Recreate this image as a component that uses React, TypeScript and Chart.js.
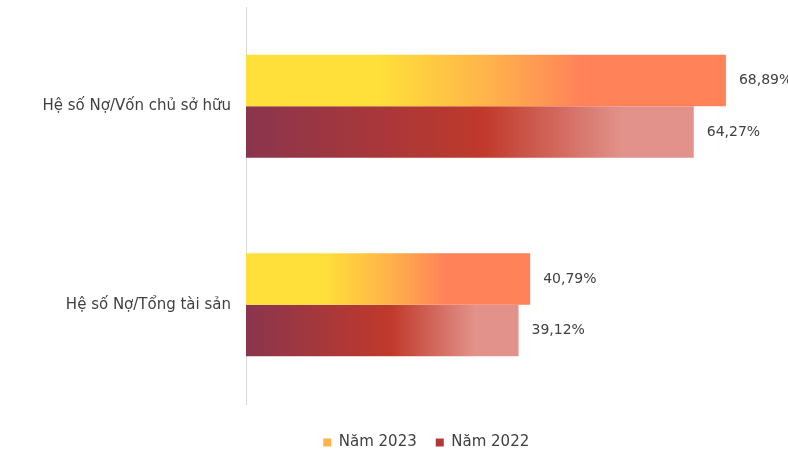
import React, { useEffect, useRef } from "react";
import { Chart, registerables } from "chart.js";

Chart.register(...registerables);

const categories = ["Hệ số Nợ/Vốn chủ sở hữu", "Hệ số Nợ/Tổng tài sản"];
const seriesNames = ["Năm 2023", "Năm 2022"];
const values2023 = [68.89, 40.79];
const values2022 = [64.27, 39.12];

const stops2023: [number, string][] = [
  [0, "#FFDF3A"],
  [0.28, "#FFDF3A"],
  [0.5, "#FFB44A"],
  [0.7, "#FF8259"],
  [1, "#FF8259"],
];
const stops2022: [number, string][] = [
  [0, "#8A354D"],
  [0.53, "#C0392B"],
  [0.84, "#E2928A"],
  [1, "#E2928A"],
];

const FONT = "'DejaVu Sans', sans-serif";
const TEXT = "#404040";

function barGradient(stops: [number, string][]) {
  return (ctx: any) => {
    const chart = ctx.chart;
    const x = chart.scales?.x;
    if (!chart.chartArea || !x || ctx.dataIndex === undefined) return stops[stops.length - 1][1];
    const v = ctx.dataset.data[ctx.dataIndex];
    const x0 = x.getPixelForValue(0);
    const x1 = x.getPixelForValue(v);
    const g = chart.ctx.createLinearGradient(x0, 0, x1, 0);
    stops.forEach(([o, c]) => g.addColorStop(o, c));
    return g;
  };
}

const labelPlugin = {
  id: "valueLabels",
  afterDatasetsDraw(chart: any) {
    const c = chart.ctx;
    c.save();
    c.font = `14px ${FONT}`;
    c.fillStyle = TEXT;
    c.textAlign = "left";
    c.textBaseline = "middle";
    chart.data.datasets.forEach((ds: any, di: number) => {
      const meta = chart.getDatasetMeta(di);
      meta.data.forEach((bar: any, i: number) => {
        const v = ds.data[i] as number;
        const t = v.toFixed(2).replace(".", ",") + "%";
        c.fillText(t, bar.x + 13, bar.y);
      });
    });
    c.restore();
  },
};

const legendShift = {
  id: "legendShift",
  afterLayout(chart: any) {
    const lg = chart.legend;
    if (lg) {
      lg.left += 42;
      lg.right += 42;
      lg.top += 5;
      lg.bottom += 5;
    }
  },
};

export default function App() {
  const ref = useRef<HTMLCanvasElement>(null);
  useEffect(() => {
    if (!ref.current) return;
    const chart = new Chart(ref.current, {
      type: "bar",
      data: {
        labels: categories,
        datasets: [
          {
            label: seriesNames[0],
            data: values2023,
            backgroundColor: barGradient(stops2023),
            borderWidth: 0,
            barPercentage: 1,
            categoryPercentage: 0.52,
          },
          {
            label: seriesNames[1],
            data: values2022,
            backgroundColor: barGradient(stops2022),
            borderWidth: 0,
            barPercentage: 1,
            categoryPercentage: 0.52,
          },
        ],
      },
      options: {
        indexAxis: "y",
        animation: false,
        responsive: false,
        maintainAspectRatio: false,
        layout: { padding: { top: 7, right: 19.5, bottom: 0, left: 0 } },
        scales: {
          x: {
            min: 0,
            max: 75,
            display: true,
            grid: { display: false, drawTicks: false },
            border: { display: false },
            ticks: { display: false },
            afterFit: (s: any) => {
              s.height = 7;
            },
          },
          y: {
            grid: { display: false, drawTicks: false },
            border: { display: true, color: "#D9D9D9", width: 1 },
            ticks: {
              color: TEXT,
              font: { family: FONT, size: 15 },
              padding: 15,
            },
            afterFit: (s: any) => {
              s.width = 246;
              s.paddingTop = 0;
              s.paddingBottom = 0;
            },
          },
        },
        plugins: {
          legend: {
            position: "bottom",
            labels: {
              boxWidth: 8,
              boxHeight: 8,
              padding: 19,
              color: TEXT,
              font: { family: FONT, size: 15 },
              generateLabels: () => [
                { text: seriesNames[0], fillStyle: "#FFB44A", strokeStyle: "#FFB44A", lineWidth: 0, datasetIndex: 0, fontColor: TEXT },
                { text: seriesNames[1], fillStyle: "#B0393A", strokeStyle: "#B0393A", lineWidth: 0, datasetIndex: 1, fontColor: TEXT },
              ],
            },
          },
          tooltip: { enabled: false },
        },
      },
      plugins: [labelPlugin, legendShift],
    });
    return () => chart.destroy();
  }, []);
  return (
    <div style={{ position: "fixed", left: 0, top: 0, width: 788, height: 455, background: "#fff" }}>
      <canvas ref={ref} width={788} height={455} style={{ width: 788, height: 455 }} />
    </div>
  );
}
